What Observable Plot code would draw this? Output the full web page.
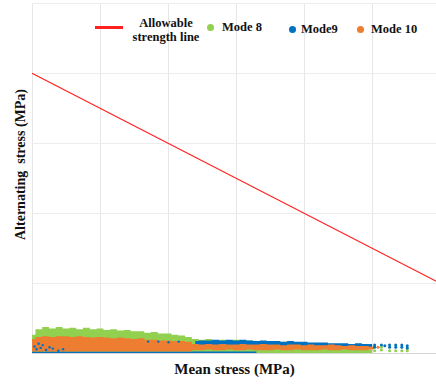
<!DOCTYPE html>
<html>
<head>
<meta charset="utf-8">
<script src="https://cdn.jsdelivr.net/npm/d3@7"></script>
<script src="https://cdn.jsdelivr.net/npm/@observablehq/plot@0.6"></script>
<style>
  body { margin: 0; background: #fff; }
  #wrap { position: relative; width: 436px; height: 384px; font-family: "Liberation Serif", "Times New Roman", serif; }
  #legend { position: absolute; left: 0; top: 0; width: 436px; height: 50px; font-weight: bold; font-size: 12.5px; color: #111; }
  #legend .item { position: absolute; white-space: nowrap; }
  #legend .dot { position: absolute; width: 7px; height: 7px; border-radius: 50%; }
</style>
</head>
<body>
<div id="wrap">
  <div id="chart"></div>
  <div id="legend"></div>
</div>
<script>
// Mean stress sample positions (MPa)
const meanStress = [0,10,20,30,40,50,60,70,80,90,100,110,120,130,140,150,160,170,180,190,200,
  210,220,230,240,250,260,270,280,290,300,310,320,330,340,350,360,370,380,390,400,
  410,420,430,440,450,460,470,480,490,500];

// Mode 8: upper envelope of alternating stress (MPa)
const mode8High = [26,34,37,35,37,35,36,34,36,34,35,33,34,32,33,31,31,29,30,28,28,
  26,25,23,20,19,20,18,19,18,19,17,18,17,16,16,15,16,14,15,14,
  13,14,12,11,10,9,8,7,6,5];
const mode8Low = meanStress.map(() => 0);

// Mode 9: points hugging the axis, then a raised band at higher mean stress
const mode9Floor = [2,2,2,2,2,2,2,2,2,2,2,2,2,2,2,2,2,2,2,2,2,
  2,2,2,2,2,2,2,2,2,2,2,2,2,null,null,null,null,null,null,null,
  null,null,null,null,null,null,null,null,null,null];
const mode9High = [null,null,null,null,null,null,null,null,null,null,null,null,null,null,null,null,null,null,null,null,null,
  null,null,null,17,18,18,19,18,19,18,19,18,17,18,17,17,16,17,16,16,
  15,15,15,14,14,14,13,14,13,13];
const mode9Low = [null,null,null,null,null,null,null,null,null,null,null,null,null,null,null,null,null,null,null,null,null,
  null,null,null,10,10,9,10,10,9,10,10,9,10,9,10,9,9,10,9,9,
  9,9,8,9,8,9,8,8,8,8];

// Mode 10: band of alternating stress (MPa)
const mode10High = [20,23,24,23,24,24,23,24,23,22,23,22,21,22,21,20,21,19,19,18,18,
  17,17,16,13,12,13,12,13,12,12,13,12,12,13,12,12,11,12,12,11,
  12,11,11,12,11,10,11,10,10,9];
const mode10Low = [2,2,2,2,2,2,2,2,2,2,2,2,2,2,2,2,2,2,2,2,2,
  2,2,2,4,4,5,4,4,5,4,4,5,4,4,4,5,4,4,5,4,
  4,4,5,4,4,5,4,4,4,5];

// Scattered Mode 9 points inside the Mode 10 cloud at low mean stress
const mode9SpeckX = [3,6,9,12,15,20,25,30,38,45,170,185,200,215];
const mode9SpeckY = [10,6,14,8,12,5,9,7,4,6,17,17,16,17];

// Sparse points at the high-mean-stress tail
const mode9TailX = [503,503,513,518,525,525,534,534,543,543,551,551];
const mode9TailY = [12,9,12,11,12,9,12,9,12,9,11,8];
const mode8TailX = [503,513,513,525,534,543,551,551];
const mode8TailY = [4,5,9,4,4,4,4,7];
const mode10TailX = [500,503,508];
const mode10TailY = [8,10,9];

// Allowable strength line (Goodman-type): end points
const strengthX = [0, 800];
const strengthY = [400, 0];

const gridXTicks = [0,100,200,300,400,500];
const gridYTicks = [100,200,300,400,500];

const colors = { mode8: "#92d050", mode9: "#0070c0", mode10: "#ed7d31", line: "#ff2020" };

const rows = meanStress.map((x, i) => ({
  x,
  h8: mode8High[i], l8: mode8Low[i],
  f9: mode9Floor[i],
  h9: mode9High[i], l9: mode9Low[i],
  h10: mode10High[i], l10: mode10Low[i]
}));
const pts = (xs, ys) => xs.map((x, i) => ({x, y: ys[i]}));
const strength = pts(strengthX, strengthY);

const font = "Liberation Serif, Times New Roman, serif";

const chart = Plot.plot({
  width: 436,
  height: 384,
  marginLeft: 32,
  marginRight: 0,
  marginTop: 3,
  marginBottom: 31,
  x: { domain: [0, 594], axis: null },
  y: { domain: [0, 500], axis: null },
  marks: [
    Plot.gridX(gridXTicks, { stroke: "#e6e6e6", strokeOpacity: 1 }),
    Plot.gridY(gridYTicks, { stroke: "#ececec", strokeOpacity: 1 }),
    Plot.ruleY([0], { stroke: "#d6d6d6", strokeWidth: 1.2 }),
    Plot.areaY(rows, { x: "x", y1: "l8", y2: "h8", fill: colors.mode8, curve: "step" }),
    Plot.areaY(rows, { x: "x", y1: 0, y2: "f9", fill: colors.mode9, curve: "step", defined: d => d.f9 != null }),
    Plot.areaY(rows, { x: "x", y1: "l9", y2: "h9", fill: colors.mode9, curve: "step", defined: d => d.h9 != null }),
    Plot.areaY(rows, { x: "x", y1: "l10", y2: "h10", fill: colors.mode10, curve: "step" }),
    Plot.dot(pts(mode9SpeckX, mode9SpeckY), { x: "x", y: "y", r: 1.2, fill: colors.mode9 }),
    Plot.dot(pts(mode8TailX, mode8TailY), { x: "x", y: "y", r: 1.5, fill: colors.mode8 }),
    Plot.dot(pts(mode10TailX, mode10TailY), { x: "x", y: "y", r: 1.5, fill: colors.mode10 }),
    Plot.dot(pts(mode9TailX, mode9TailY), { x: "x", y: "y", r: 1.5, fill: colors.mode9 }),
    Plot.line(strength, { x: "x", y: "y", stroke: colors.line, strokeWidth: 1.2, clip: true }),
    Plot.text(["Mean stress (MPa)"], { frameAnchor: "bottom", dy: 20, fontSize: 15, fontWeight: "bold", fontFamily: font, fill: "#111" }),
    Plot.text(["Alternating  stress (MPa)"], { frameAnchor: "left", textAnchor: "middle", rotate: -90, dx: -12, dy: -14, fontSize: 14, fontWeight: "bold", fontFamily: font, fill: "#111" })
  ]
});
document.getElementById("chart").appendChild(chart);

// Legend drawn over the top of the plot area
const legend = document.getElementById("legend");
const add = (html, style, cls = "item") => {
  const el = document.createElement("div");
  el.className = cls;
  el.innerHTML = html;
  Object.assign(el.style, style);
  legend.appendChild(el);
};
add("", { left: "95px", top: "25.5px", width: "28px", height: "3px", background: colors.line });
add("Allowable<br>strength line", { left: "131px", top: "16px", width: "70px", textAlign: "center", lineHeight: "14px" });
add("", { left: "206.5px", top: "23.5px", background: colors.mode8 }, "dot");
add("Mode 8", { left: "222px", top: "19px", lineHeight: "16px" });
add("", { left: "288.5px", top: "25.5px", background: colors.mode9 }, "dot");
add("Mode9", { left: "301px", top: "21px", lineHeight: "16px" });
add("", { left: "356.5px", top: "25.5px", background: colors.mode10 }, "dot");
add("Mode 10", { left: "371px", top: "21px", lineHeight: "16px" });
</script>
</body>
</html>
